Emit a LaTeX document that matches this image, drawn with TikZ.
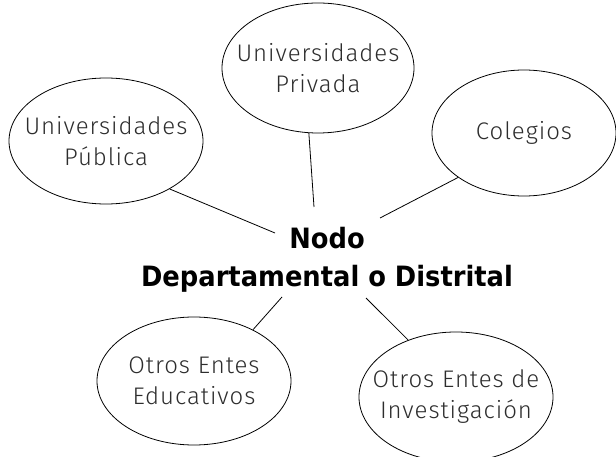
\documentclass[tikz,border=0pt]{standalone}
\usepackage{fontspec}
\usetikzlibrary{shapes.geometric}
\newfontfamily\thinfont{Fira Sans Light}[LetterSpace=4]
\newfontfamily\nodofont{DejaVu Sans}[FakeStretch=0.92]
\definecolor{txt}{RGB}{45,45,45}
\tikzset{
  bubble/.style={draw, ellipse, line width=0.8pt, inner sep=0pt},
  bubtext/.style={align=center, text=txt, font=\thinfont\fontsize{24}{31}\selectfont},
  nodotext/.style={align=center, font=\nodofont\bfseries\fontsize{28}{38}\selectfont},
  link/.style={draw, line width=0.8pt}
}

\begin{document}
\begin{tikzpicture}[x=1pt, y=-1pt]
    \useasboundingbox (0,0) rectangle (616,457);
    % ellipses
    \node[bubble, minimum width=194pt, minimum height=126pt,
        label={[bubtext]center:Universidades\\Pública}] (publica) at (106,141) {};
    \node[bubble, minimum width=192pt, minimum height=130pt,
        label={[bubtext]center:Universidades\\Privada}] (privada) at (318,68) {};
    \node[bubble, minimum width=184pt, minimum height=126pt,
        label={[bubtext]center:Colegios}] (colegios) at (524,133) {};
    \node[bubble, minimum width=194pt, minimum height=128pt,
        label={[bubtext]center:Otros Entes\\Educativos}] (educativos) at (194,381) {};
    \node[bubble, minimum width=194pt, minimum height=130pt,
        label={[bubtext]center:Otros Entes de\\Investigación}] (investigacion) at (456,397) {};
    % centre
    \node[nodotext] (nodo) at (327,260) {Nodo\\Departamental o Distrital};
    \coordinate (e1) at (275,233);
    \coordinate (e2) at (314,207);
    \coordinate (e3) at (380,218);
    \coordinate (e4) at (282,297);
    \coordinate (e5) at (366,298);
    % links
    \draw[link] (publica.-37) -- (e1);
    \draw[link] (privada.-98) -- (e2);
    \draw[link] (colegios.-146) -- (e3);
    \draw[link] (educativos.41) -- (e4);
    \draw[link] (investigacion.130) -- (e5);
\end{tikzpicture}
\end{document}
